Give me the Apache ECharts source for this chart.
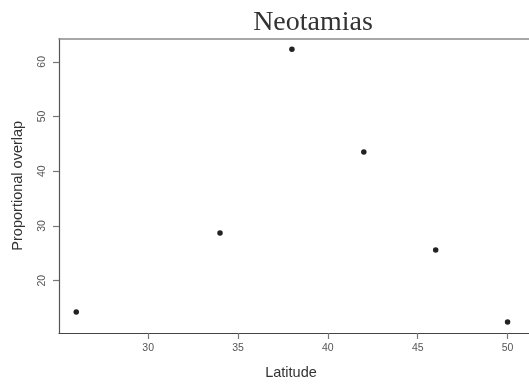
<!DOCTYPE html>
<html>
<head>
<meta charset="utf-8">
<script src="https://cdn.jsdelivr.net/npm/echarts@6/dist/echarts.min.js"></script>
<style>
  html, body { margin: 0; padding: 0; background: #fff; }
  #chart { width: 529px; height: 385px; }
</style>
</head>
<body>
<div id="chart"></div>
<script>
// Latitude of each sampled site and the proportional range overlap there
const latitude = [26, 34, 38, 42, 46, 50];
const overlap = [14.3, 28.7, 62.3, 43.5, 25.6, 12.45];

// Tick positions on each axis
const xTicks = [30, 35, 40, 45, 50];
const yTicks = [20, 30, 40, 50, 60];

const points = latitude.map((x, i) => [x, overlap[i]]);

const chart = echarts.init(document.getElementById('chart'), null, { renderer: 'canvas' });

const xMin = 25.04;
const xMax = 52.75;

chart.setOption({
  animation: false,
  backgroundColor: '#ffffff',
  title: {
    text: 'Neotamias',
    left: 308,
    top: 4,
    textAlign: 'center',
    textStyle: {
      fontFamily: 'Liberation Serif',
      fontWeight: 'normal',
      fontSize: 28,
      color: '#333'
    }
  },
  grid: {
    left: 59,
    top: 38.5,
    right: -28,
    bottom: 52,
    outerBoundsMode: 'none',
    containLabel: false,
    show: false
  },
  xAxis: [{
    type: 'value',
    min: xMin,
    max: xMax,
    name: 'Latitude',
    nameLocation: 'middle',
    nameGap: 32,
    nameTextStyle: {
      fontFamily: 'Liberation Sans',
      fontSize: 14.5,
      color: '#333',
      padding: [0, 34, 0, 0]
    },
    splitLine: { show: false },
    axisLine: { show: true, lineStyle: { color: '#444', width: 1.2 } },
    axisTick: {
      show: true,
      inside: false,
      length: 6,
      customValues: xTicks,
      lineStyle: { color: '#777', width: 1.2 }
    },
    axisLabel: {
      customValues: xTicks,
      margin: 10,
      fontFamily: 'Liberation Sans',
      fontSize: 10.5,
      color: '#555'
    }
  }, {
    // upper edge of the plot frame
    type: 'value',
    position: 'top',
    min: xMin,
    max: xMax,
    splitLine: { show: false },
    axisLine: { show: true, lineStyle: { color: '#8a8a8a', width: 1.5 } },
    axisTick: { show: false },
    axisLabel: { show: false }
  }],
  yAxis: {
    type: 'value',
    min: 10.44,
    max: 64.26,
    name: 'Proportional overlap',
    nameLocation: 'middle',
    nameGap: 34,
    nameTextStyle: {
      fontFamily: 'Liberation Sans',
      fontSize: 14.5,
      color: '#333'
    },
    splitLine: { show: false },
    axisLine: { show: true, lineStyle: { color: '#555', width: 1.2 } },
    axisTick: {
      show: true,
      inside: false,
      length: 6,
      customValues: yTicks,
      lineStyle: { color: '#777', width: 1.2 }
    },
    axisLabel: {
      customValues: yTicks,
      rotate: 90,
      margin: 11,
      fontFamily: 'Liberation Sans',
      fontSize: 10.5,
      color: '#555'
    }
  },
  series: [{
    type: 'scatter',
    xAxisIndex: 0,
    data: points,
    symbol: 'circle',
    symbolSize: 5.5,
    itemStyle: { color: '#222', opacity: 1 }
  }]
});
</script>
</body>
</html>
